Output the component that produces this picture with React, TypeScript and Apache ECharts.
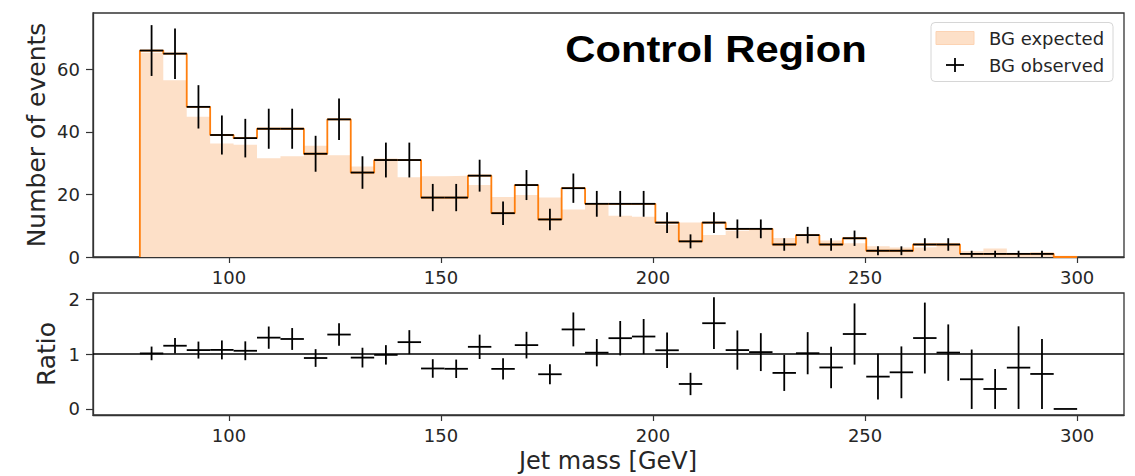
import { useEffect, useRef } from "react";
import * as echarts from "echarts";

// Histogram binning: 40 bins from 79 to 300 GeV
const BIN_LOW = 79;
const BIN_WIDTH = 5.525;

// Event counts per bin
const observed = [
  66, 65, 48, 39, 38, 41, 41, 33, 44, 27, 31, 31, 19, 19, 26, 14, 23, 12, 22, 17,
  17, 17, 11, 5, 11, 9, 9, 4, 7, 4, 6, 2, 2, 4, 4, 1, 1, 1, 1, 0,
];
const expected = [
  65.3, 56.5, 44.8, 36.3, 35.9, 31.6, 32.2, 35.6, 32.5, 28.9, 31.5, 25.5, 25.8, 26.0,
  23.0, 19.2, 19.8, 19.0, 15.2, 16.6, 13.2, 12.9, 10.3, 11.0, 7.05, 8.4, 8.7, 6.1,
  6.9, 5.3, 4.4, 3.4, 3.0, 3.1, 3.9, 1.85, 2.75, 1.33, 1.57, 0.4,
];

// Tick positions
const massTicks = [100, 150, 200, 250, 300];
const countTicks = [0, 20, 40, 60];
const ratioTicks = [0, 1, 2];

const X_MIN = 67.95;
const X_MAX = 311.05;

const FRAME = "#333333";
const TEXT = "#262626";
const ORANGE = "#ff7f0e";
const PEACH = "#fde0c8";
const FONT = "DejaVu Sans";

const edges = Array.from({ length: observed.length + 1 }, (_, i) => BIN_LOW + i * BIN_WIDTH);

// Turn per-bin values into a step outline
function stepPoints(values: number[], closeToZero: boolean): number[][] {
  const pts: number[][] = [];
  if (closeToZero) pts.push([edges[0], 0]);
  values.forEach((v, i) => {
    pts.push([edges[i], v]);
    pts.push([edges[i + 1], v]);
  });
  if (closeToZero) pts.push([edges[values.length], 0]);
  return pts;
}

// [center, value, error, leftEdge, rightEdge]
const observedCrosses = observed
  .map((n, i) => [(edges[i] + edges[i + 1]) / 2, n, Math.sqrt(n), edges[i], edges[i + 1]])
  .filter((d) => d[1] > 0);

const ratioCrosses = observed.map((n, i) => [
  (edges[i] + edges[i + 1]) / 2,
  n / expected[i],
  Math.sqrt(n) / expected[i],
  edges[i],
  edges[i + 1],
]);

function renderCross(_params: any, api: any) {
  const c = api.value(0);
  const v = api.value(1);
  const e = api.value(2);
  const l = api.value(3);
  const r = api.value(4);
  const pl = api.coord([l, v]);
  const pr = api.coord([r, v]);
  const lo = api.coord([c, v - e]);
  const hi = api.coord([c, v + e]);
  const style = { stroke: "#000", lineWidth: 1.8 };
  return {
    type: "group",
    children: [
      { type: "line", shape: { x1: pl[0], y1: pl[1], x2: pr[0], y2: pr[1] }, style },
      { type: "line", shape: { x1: lo[0], y1: lo[1], x2: hi[0], y2: hi[1] }, style },
    ],
  };
}

function massAxis(gridIndex: number) {
  return {
    type: "value",
    gridIndex,
    min: X_MIN,
    max: X_MAX,
    axisLine: { show: true, onZero: false, lineStyle: { color: FRAME, width: 1.3 } },
    axisTick: { show: true, customValues: massTicks, length: 6, lineStyle: { color: FRAME, width: 1.2 } },
    axisLabel: { customValues: massTicks, fontSize: 18, fontFamily: FONT, color: TEXT, margin: 11 },
    splitLine: { show: false },
  };
}

function valueAxis(gridIndex: number, min: number, max: number, ticks: number[]) {
  return {
    type: "value",
    gridIndex,
    min,
    max,
    axisLine: { show: true, onZero: false, lineStyle: { color: FRAME, width: 1.3 } },
    axisTick: { show: true, customValues: ticks, length: 7, lineStyle: { color: FRAME, width: 1.2 } },
    axisLabel: { customValues: ticks, fontSize: 18, fontFamily: FONT, color: TEXT, margin: 13 },
    splitLine: { show: false },
  };
}

const option: any = {
  animation: false,
  backgroundColor: "#fff",
  grid: [
    { left: 93, right: 11, top: 13, height: 244, show: true, borderColor: FRAME, borderWidth: 1.3, outerBoundsMode: "none" },
    { left: 93, right: 11, top: 293, height: 122, show: true, borderColor: FRAME, borderWidth: 1.3, outerBoundsMode: "none" },
  ],
  xAxis: [massAxis(0), massAxis(1)],
  yAxis: [valueAxis(0, 0, 78, countTicks), valueAxis(1, -0.11, 2.11, ratioTicks)],
  series: [
    {
      name: "BG expected",
      type: "line",
      xAxisIndex: 0,
      yAxisIndex: 0,
      data: stepPoints(expected, false),
      showSymbol: false,
      lineStyle: { width: 0, opacity: 0 },
      areaStyle: { color: PEACH, opacity: 1 },
      silent: true,
      z: 1,
    },
    {
      name: "observed outline",
      type: "line",
      xAxisIndex: 0,
      yAxisIndex: 0,
      data: stepPoints(observed, true),
      showSymbol: false,
      lineStyle: { width: 1.8, color: ORANGE },
      silent: true,
      z: 2,
    },
    {
      name: "BG observed",
      type: "custom",
      xAxisIndex: 0,
      yAxisIndex: 0,
      data: observedCrosses,
      renderItem: renderCross,
      encode: { x: 0, y: 1 },
      silent: true,
      z: 3,
    },
    {
      name: "Ratio",
      type: "custom",
      xAxisIndex: 1,
      yAxisIndex: 1,
      data: ratioCrosses,
      renderItem: renderCross,
      encode: { x: 0, y: 1 },
      silent: true,
      z: 3,
      markLine: {
        silent: true,
        symbol: "none",
        label: { show: false },
        lineStyle: { color: "#000", width: 1.5, type: "solid" },
        data: [{ yAxis: 1 }],
      },
    },
  ],
  graphic: [
    {
      type: "text",
      x: 716,
      y: 50,
      scaleX: 1.16,
      style: {
        text: "Control Region",
        fontFamily: "Liberation Sans",
        fontWeight: "bold",
        fontSize: 36,
        fill: "#000",
        align: "center",
        verticalAlign: "middle",
      },
    },
    // Legend
    {
      type: "rect",
      shape: { x: 931, y: 22.5, width: 182, height: 59, r: 4 },
      style: { fill: "rgba(255,255,255,0.85)", stroke: "#d6d6d6", lineWidth: 1 },
    },
    {
      type: "rect",
      shape: { x: 936, y: 31.5, width: 38, height: 13 },
      style: { fill: PEACH, stroke: "#fcd3b3", lineWidth: 1 },
    },
    {
      type: "text",
      x: 989,
      y: 38,
      style: { text: "BG expected", fontFamily: FONT, fontSize: 18, fill: TEXT, align: "left", verticalAlign: "middle" },
    },
    {
      type: "line",
      shape: { x1: 946, y1: 65, x2: 964, y2: 65 },
      style: { stroke: "#000", lineWidth: 1.8 },
    },
    {
      type: "line",
      shape: { x1: 955, y1: 58, x2: 955, y2: 72 },
      style: { stroke: "#000", lineWidth: 1.8 },
    },
    {
      type: "text",
      x: 989,
      y: 65,
      style: { text: "BG observed", fontFamily: FONT, fontSize: 18, fill: TEXT, align: "left", verticalAlign: "middle" },
    },
    // Axis titles
    {
      type: "text",
      x: 36,
      y: 135,
      rotation: Math.PI / 2,
      style: { text: "Number of events", fontFamily: FONT, fontSize: 25, fill: TEXT, align: "center", verticalAlign: "middle" },
    },
    {
      type: "text",
      x: 46,
      y: 354,
      rotation: Math.PI / 2,
      style: { text: "Ratio", fontFamily: FONT, fontSize: 25, fill: TEXT, align: "center", verticalAlign: "middle" },
    },
    {
      type: "text",
      x: 608,
      y: 461,
      style: { text: "Jet mass [GeV]", fontFamily: FONT, fontSize: 24, fill: TEXT, align: "center", verticalAlign: "middle" },
    },
  ],
};

export default function App() {
  const ref = useRef<HTMLDivElement>(null);
  useEffect(() => {
    const chart = echarts.init(ref.current as HTMLDivElement, null, { renderer: "svg" });
    chart.setOption(option);
    return () => chart.dispose();
  }, []);
  return (
    <div
      ref={ref}
      style={{ position: "fixed", left: 0, top: 0, width: 1135, height: 476, background: "#fff" }}
    />
  );
}
